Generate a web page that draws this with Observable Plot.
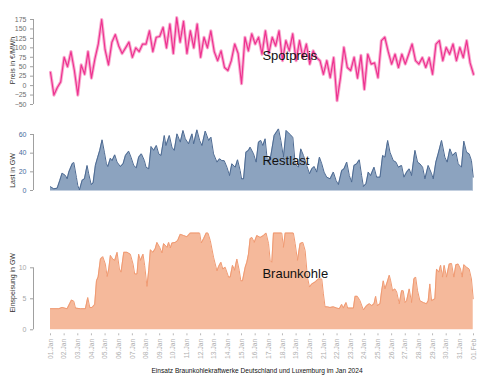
<!DOCTYPE html>
<html><head><meta charset="utf-8">
<script src="https://cdn.jsdelivr.net/npm/d3@7"></script>
<script src="https://cdn.jsdelivr.net/npm/@observablehq/plot@0.6"></script>
<style>
html,body{margin:0;padding:0;background:#fff;}
#chart{position:relative;width:500px;height:375px;overflow:hidden;font-family:"Liberation Sans",Arial,sans-serif;}
#chart svg{position:absolute;left:0;}
#caption{position:absolute;top:367px;left:0;width:514px;text-align:center;font-size:6.6px;line-height:8px;color:#111;}
</style></head><body><div id="chart"><div id="caption"></div></div>
<script>
const captionText = "Einsatz Braunkohlekraftwerke Deutschland und Luxemburg im Jan 2024";
const priceTicks = [-50,-25,0,25,50,75,100,125,150,175];
const lastTicks = [0,20,40,60];
const braunTicks = [0,5,10];
const dayLabels = ["01.Jan","02.Jan","03.Jan","04.Jan","05.Jan","06.Jan","07.Jan","08.Jan","09.Jan","10.Jan","11.Jan","12.Jan","13.Jan","14.Jan","15.Jan","16.Jan","17.Jan","18.Jan","19.Jan","20.Jan","21.Jan","22.Jan","23.Jan","24.Jan","25.Jan","26.Jan","27.Jan","28.Jan","29.Jan","30.Jan","31.Jan","01.Feb"];

// Spotpreis, 6-hourly (€/MWh)
const spotPreis = [
35,-25,-5,10, 75,50,90,40, -25,55,30,90, 20,70,110,175, 95,55,115,135,
105,85,100,115, 75,100,90,110, 110,145,90,128, 130,154,100,163, 85,180,115,170,
85,145,100,163, 75,128,100,145, 90,66,92,48, 40,66,110,85, 5,128,92,137,
110,128,83,145, 85,128,105,145, 66,119,92,137, 66,119,74,110, 57,92,74,66,
30,66,21,74, -40,21,101,48, 40,75,20,80, -10,83,57,60, 21,119,128,90,
57,83,48,83, 57,83,110,66, 57,74,48,74, 30,110,119,66, 101,83,110,66,
101,74,119,60, 30];

// Restlast (GW), day offset from 01.Jan
const restTag = [0,0.24,0.49,0.68,0.85,1.10,1.22,1.34,1.59,1.71,1.90,2.00,2.12,2.32,2.49,2.68,2.80,2.98,3.12,3.29,3.46,3.61,3.78,3.95,4.10,4.20,4.39,4.51,4.71,4.88,5.12,5.32,5.49,5.73,5.90,6.10,6.29,6.46,6.66,6.88,7.00,7.20,7.37,7.56,7.76,7.93,8.10,8.34,8.46,8.71,8.90,9.07,9.27,9.51,9.71,9.88,10.12,10.37,10.49,10.73,10.93,11.10,11.34,11.59,11.76,11.95,12.20,12.39,12.56,12.73,12.93,13.12,13.29,13.54,13.71,13.90,14.00,14.15,14.32,14.51,
14.63,14.88,15.07,15.24,15.41,15.56,15.73,15.90,16.15,16.39,16.71,16.88,17.07,17.27,17.51,17.76,17.93,18.17,18.34,18.54,18.78,18.98,19.15,19.32,19.51,19.71,19.88,20.05,20.24,20.49,20.73,20.93,21.10,21.34,21.51,21.71,21.90,22.07,22.24,22.44,22.63,22.80,22.93,23.12,23.29,23.46,23.71,23.90,24.15,24.34,24.51,24.71,24.88,25.12,25.32,25.49,25.73,25.90,26.10,26.29,26.46,26.71,26.90,27.07,27.27,27.44,27.68,27.93,28.05,28.24,28.41,28.66,28.90,29.07,29.27,29.46,29.71,29.88,30.12,30.29,30.49,30.68,30.85,30.98];
const restGW = [4,1.8,2.5,10.7,18.6,16,12.5,19.7,28.6,30,14,5.4,0.5,11,12.5,26.8,17.9,6.4,8,27,35.7,43,54.3,41,28.6,25.7,34.6,32,38.2,30.4,25.7,28.6,37.5,42.1,35.7,26.8,24.3,35.7,39.3,32.1,25,23.2,47.1,43,48.2,39.3,37.5,58.9,48.2,58.9,46.4,43,60.7,51.8,64.3,55.4,50,60.7,50,65,53.6,48.2,63.6,53.6,57.1,39.3,30.4,34,32,32,25,16,28.6,25,32.9,21.4,12.5,12.5,41,43,
46.4,39.3,30.4,51.8,53.6,48.2,55.4,30.4,37.5,58.9,66,53.6,35.7,64.3,60.7,57.1,28.6,25,44.6,37.5,26.8,17.9,23.2,25.7,19.7,35.7,28.6,19.7,14.3,12.5,19.7,10.7,6.4,21.4,23.2,30.4,16,9,26.8,28.6,32.9,16,4.3,7.2,19.7,16,25,14.3,14.3,37.5,35.7,53.6,41,32.1,30.4,25,26.8,14.3,19.7,23.2,16,43,30.4,28.6,25,12.5,26.8,17.9,12.5,30.4,39.3,53.6,35.7,30.4,44.6,37.5,41,28.6,25,52.9,41,39.3,32.1,14.3];

// Braunkohle Einspeisung (GW), day offset from 01.Jan
const braunTag = [0,0.61,0.85,1.22,1.54,1.71,1.83,2.20,2.56,2.73,2.88,3.05,3.24,3.37,3.49,3.66,3.83,4.02,4.15,4.27,4.39,4.56,4.71,4.88,5.05,5.17,5.37,5.61,5.85,6.05,6.17,6.34,6.46,6.59,6.78,6.90,7.07,7.20,7.32,7.51,7.68,7.80,8.00,8.17,8.29,8.54,8.66,8.78,8.90,9.15,9.32,9.51,9.76,10.00,10.24,10.73,10.93,11.05,11.22,11.41,11.54,11.71,11.95,12.20,12.32,12.49,12.63,12.80,13.05,13.17,13.34,13.49,13.66,13.83,13.95,14.07,14.27,14.39,14.51,14.63,
14.76,14.93,15.12,15.37,15.61,15.80,15.98,16.10,16.22,16.34,16.95,17.07,17.20,17.80,17.93,18.10,18.29,18.49,18.66,18.83,18.98,19.15,19.39,19.63,19.88,20.00,20.12,20.29,20.49,20.73,20.98,21.17,21.34,21.46,21.66,21.78,22.20,22.32,22.49,22.68,22.93,23.17,23.37,23.54,23.71,23.83,23.95,24.15,24.27,24.39,24.51,24.68,24.83,24.93,25.07,25.24,25.37,25.56,25.73,25.85,25.98,26.10,26.29,26.46,26.63,26.76,26.90,27.07,27.32,27.56,27.68,27.80,27.93,28.17,28.29,28.46,28.59,28.73,28.85,29.02,29.22,29.39,29.56,29.71,29.88,30.05,30.17,30.29,30.49,30.68,30.85,30.98];
const braunGW = [3.4,3.4,3.6,3.4,4.8,4.6,3.5,3.4,3.4,5.2,3.6,3.6,4.1,7.9,8.5,11.4,11.8,10.6,8.6,9.8,12,11.4,11.2,12.5,9.8,9.3,12.5,12.5,12.2,10.6,9,9,12.2,11.2,12.2,10.4,7,9.6,12.9,12.5,13.1,14.1,13.3,12.4,13.9,13.3,14.1,13.2,14,14.1,14.4,15.4,15.2,15.0,15.6,15.6,15.6,14,14.7,15.6,15.6,14.4,11.7,9.5,10.2,10.9,9.8,10.1,8.5,8.5,10.4,9.6,11.4,9.6,7.9,7.9,10.1,10.9,12.2,14.7,
14.9,14.1,15.2,14.9,15.2,15.6,13.9,11.2,10.9,15.6,15.6,13.3,15.6,15.6,13.9,11.2,13.9,14.1,12.8,8.5,6.9,7.4,7.7,8.2,8.2,5.8,3.7,3.7,3.6,3.7,3.5,3.4,4.1,3.5,4.4,3.5,3.5,5.4,5.4,4.7,3.2,3.9,4.2,3.9,4.2,5.4,3.9,4.2,6.3,7.9,6.6,7.7,8.8,7.9,6.3,6.6,6.1,4.2,6.3,6.3,4.4,4.7,6.6,4.4,8.2,8.5,6.3,4.7,4.4,4.2,4.7,7.4,4.7,5,9.8,9.3,10.4,8.5,10.4,8.5,10.6,10.7,8.5,10.5,10.6,9.8,8.5,10.5,10.1,9.8,8.2,5];

const panelNames = ["Spotpreis","Restlast","Braunkohle"];
const yLabels = ["Preis in €/MWh","Last in GW","Einspeisung in GW"];

const start = Date.UTC(2024,0,1);
const DAY = 864e5;
const toDate = t => new Date(start + t*DAY);
const xDomain = [toDate(0), toDate(31)];
const dayTicks = dayLabels.map((_, i) => toDate(i));
const spotData = spotPreis.map((v,i) => ({date: toDate(i/4), value: v}));
const restData = restTag.map((t,i) => ({date: toDate(t), value: restGW[i]}));
const braunData = braunTag.map((t,i) => ({date: toDate(t), value: braunGW[i]}));

const font = '"Liberation Sans", Arial, sans-serif';
const base = {width:500, marginLeft:50, marginRight:27};
const style = {fontFamily: font, fontSize: "7px", background: "transparent", overflow: "visible"};

function yAxisMarks(ticks, textColor, labelText, labelDy){
  return [
    Plot.ruleX([xDomain[0]], {y1: d3.min(ticks), y2: d3.max(ticks), dx: -17, stroke: "#a0a0a0", strokeWidth: 1}),
    Plot.axisY({ticks, tickSize: 3, tickPadding: 4, dx: -17, fill: textColor, stroke: "#a0a0a0", fontSize: 7, label: null}),
    Plot.text([labelText], {frameAnchor: "left", textAnchor: "middle", dx: -38, dy: labelDy, rotate: -90, fontSize: 7, fill: "#333", fontFamily: font})
  ];
}

const p1 = Plot.plot({
  ...base, height: 110, marginTop: 19, marginBottom: 6, style,
  x: {type: "utc", domain: xDomain, axis: null},
  y: {domain: [-50, 175], label: null},
  marks: [
    ...yAxisMarks(priceTicks, "#6e6e6e", yLabels[0], -1.5),
    Plot.lineY(spotData, {x: "date", y: "value", stroke: "#f8acd0", strokeWidth: 3.2}),
    Plot.lineY(spotData, {x: "date", y: "value", stroke: "#ee3290", strokeWidth: 1.2}),
    Plot.text([{t: toDate(15.53), v: 79, s: panelNames[0]}], {x: "t", y: "v", text: "s", textAnchor: "start", fontSize: 13, fill: "#111", fontFamily: font})
  ]
});

const p2 = Plot.plot({
  ...base, height: 90, marginTop: 24, marginBottom: 10, style,
  x: {type: "utc", domain: xDomain, axis: null},
  y: {domain: [0, 60], label: null},
  marks: [
    ...yAxisMarks(lastTicks, "#4a6b9c", yLabels[1], 8),
    Plot.areaY(restData, {x: "date", y: "value", fill: "#8ca3bf"}),
    Plot.lineY(restData, {x: "date", y: "value", stroke: "#4d6a92", strokeWidth: 1}),
    Plot.ruleY([0], {stroke: "#c3cfdf", strokeWidth: 1.2}),
    Plot.text([{t: toDate(15.53), v: 32, s: panelNames[1]}], {x: "t", y: "v", text: "s", textAnchor: "start", fontSize: 13, fill: "#111", fontFamily: font})
  ]
});

const p3 = Plot.plot({
  ...base, height: 165, marginTop: 57.3, marginBottom: 45.7, style,
  x: {type: "utc", domain: xDomain},
  y: {domain: [0, 10], label: null},
  marks: [
    ...yAxisMarks(braunTicks, "#a8a8a8", yLabels[2], -16),
    Plot.areaY(braunData, {x: "date", y: "value", fill: "#f5b99b"}),
    Plot.lineY(braunData, {x: "date", y: "value", stroke: "#f09a72", strokeWidth: 1}),
    Plot.axisX({ticks: dayTicks, tickFormat: d => dayLabels[Math.round((d - start)/DAY)], tickRotate: -90, tickSize: 2, tickPadding: 3, dy: 4, fill: "#b0b0b0", stroke: "#b8b8b8", fontSize: 6.7, label: null}),
    Plot.text([{t: toDate(15.53), v: 9.1, s: panelNames[2]}], {x: "t", y: "v", text: "s", textAnchor: "start", fontSize: 13, fill: "#111", fontFamily: font})
  ]
});

const chart = document.getElementById("chart");
[[p1,0],[p2,110],[p3,210]].forEach(([el, top]) => { el.style.top = top + "px"; chart.appendChild(el); });
document.getElementById("caption").textContent = captionText;
</script></body></html>
